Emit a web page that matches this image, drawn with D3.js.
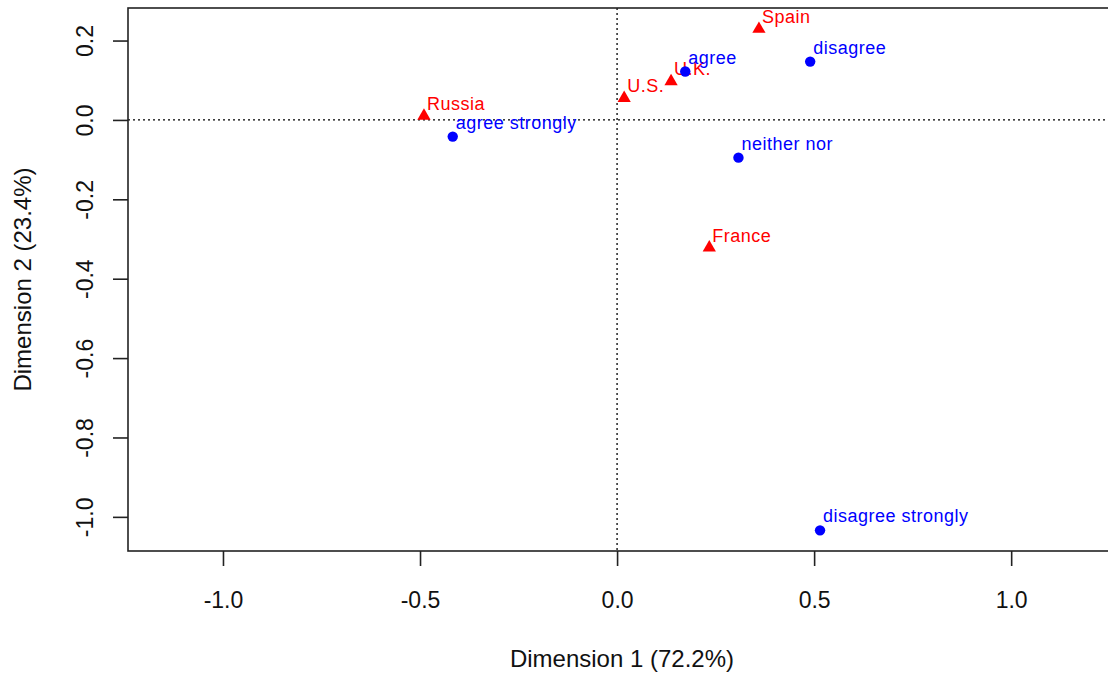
<!DOCTYPE html>
<html>
<head>
<meta charset="utf-8">
<script src="https://cdn.jsdelivr.net/npm/d3@7"></script>
<style>
    body { margin: 0; background: #ffffff; }
    svg { display: block; font-family: "Liberation Sans", Arial, sans-serif; }
</style>
</head>
<body>
<div id="chart"></div>
<script>
//row points (countries) - red triangles
var rowNames = ["U.S.", "U.K.", "Spain", "France", "Russia"];
var rowDim1 = [0.018, 0.137, 0.360, 0.234, -0.490];
var rowDim2 = [0.055, 0.097, 0.229, -0.322, 0.010];

//column points (answers) - blue circles
var colNames = ["agree strongly", "agree", "neither nor", "disagree", "disagree strongly"];
var colDim1 = [-0.417, 0.173, 0.308, 0.490, 0.515];
var colDim2 = [-0.042, 0.122, -0.095, 0.147, -1.034];

//tick values and the labels R printed for them
var xTicks = [-1.0, -0.5, 0.0, 0.5, 1.0];
var xTickLabels = ["-1.0", "-0.5", "0.0", "0.5", "1.0"];
var yTicks = [-1.0, -0.8, -0.6, -0.4, -0.2, 0.0, 0.2];
var yTickLabels = ["-1.0", "-0.8", "-0.6", "-0.4", "-0.2", "0.0", "0.2"];

var xTitle = "Dimension 1 (72.2%)";
var yTitle = "Dimension 2 (23.4%)";

//svg size
var svgWidth = 1108;
var svgHeight = 674;

//plot region edges (right edge runs past the window like the original)
var plot = { left: 128, right: 1116, top: 8, bottom: 551 };

var xScale = d3.scaleLinear().domain([-1.241, 1.266]).range([plot.left, plot.right]);
var yScale = d3.scaleLinear().domain([0.282, -1.086]).range([plot.top, plot.bottom]);

var svg = d3.select("#chart").append("svg")
    .attr("width", svgWidth)
    .attr("height", svgHeight);

//dotted reference lines through the origin
svg.append("line")
    .attr("x1", plot.left).attr("x2", plot.right)
    .attr("y1", yScale(0)).attr("y2", yScale(0))
    .attr("stroke", "#000").attr("stroke-width", 1.3)
    .attr("stroke-dasharray", "2,3");
svg.append("line")
    .attr("x1", xScale(0)).attr("x2", xScale(0))
    .attr("y1", plot.top).attr("y2", plot.bottom)
    .attr("stroke", "#000").attr("stroke-width", 1.3)
    .attr("stroke-dasharray", "2,3");

//x axis
var bottomAxis = d3.axisBottom(xScale)
    .tickValues(xTicks)
    .tickFormat((d, i) => xTickLabels[i])
    .tickSize(15)
    .tickPadding(26);
var xAxis = svg.append("g")
    .attr("class", "xAxis")
    .attr("transform", `translate(0, ${plot.bottom})`)
    .call(bottomAxis);
xAxis.select(".domain").remove();
xAxis.selectAll("line").attr("stroke", "#222").attr("stroke-width", 1.6);
xAxis.selectAll("text")
    .attr("fill", "#111")
    .style("font-size", "23px")
    .style("font-family", "Liberation Sans, Arial, sans-serif");

//y axis, labels turned like R's las=0
var leftAxis = d3.axisLeft(yScale)
    .tickValues(yTicks)
    .tickFormat((d, i) => yTickLabels[i])
    .tickSize(15);
var yAxis = svg.append("g")
    .attr("class", "yAxis")
    .attr("transform", `translate(${plot.left}, 0)`)
    .call(leftAxis);
yAxis.select(".domain").remove();
yAxis.selectAll("line").attr("stroke", "#222").attr("stroke-width", 1.6);
yAxis.selectAll("text")
    .attr("x", 0)
    .attr("dy", 0)
    .attr("text-anchor", "middle")
    .attr("transform", `translate(${93 - plot.left}, 0) rotate(-90)`)
    .attr("fill", "#111")
    .style("font-size", "23px")
    .style("font-family", "Liberation Sans, Arial, sans-serif");

//plot box
svg.append("rect")
    .attr("x", plot.left).attr("y", plot.top)
    .attr("width", plot.right - plot.left)
    .attr("height", plot.bottom - plot.top)
    .attr("fill", "none")
    .attr("stroke", "#222")
    .attr("stroke-width", 1.6);

//axis titles
svg.append("text")
    .attr("x", (plot.left + plot.right) / 2)
    .attr("y", 667)
    .attr("text-anchor", "middle")
    .attr("fill", "#111")
    .style("font-size", "24px")
    .text(xTitle);
svg.append("text")
    .attr("transform", `translate(31, ${(plot.top + plot.bottom) / 2}) rotate(-90)`)
    .attr("text-anchor", "middle")
    .attr("fill", "#111")
    .style("font-size", "24px")
    .text(yTitle);

//rows first, columns drawn on top
var rows = rowNames.map((n, i) => ({ name: n, x: rowDim1[i], y: rowDim2[i] }));
var cols = colNames.map((n, i) => ({ name: n, x: colDim1[i], y: colDim2[i] }));

var triangle = d3.symbol().type(d3.symbolTriangle).size(76);

var rowGroup = svg.append("g").attr("class", "rows");
rowGroup.selectAll("path")
    .data(rows)
    .enter().append("path")
    .attr("d", triangle)
    .attr("transform", d => `translate(${xScale(d.x)}, ${yScale(d.y)})`)
    .attr("fill", "#ff0000");
rowGroup.selectAll("text")
    .data(rows)
    .enter().append("text")
    .attr("x", d => xScale(d.x) + 3)
    .attr("y", d => yScale(d.y) - 6)
    .attr("fill", "#ff0000")
    .style("font-size", "18px")
    .style("letter-spacing", "0.5px")
    .text(d => d.name);

var colGroup = svg.append("g").attr("class", "cols");
colGroup.selectAll("circle")
    .data(cols)
    .enter().append("circle")
    .attr("cx", d => xScale(d.x))
    .attr("cy", d => yScale(d.y))
    .attr("r", 5.2)
    .attr("fill", "#0000ff");
colGroup.selectAll("text")
    .data(cols)
    .enter().append("text")
    .attr("x", d => xScale(d.x) + 3)
    .attr("y", d => yScale(d.y) - 8)
    .attr("fill", "#0000ff")
    .style("font-size", "18px")
    .style("letter-spacing", "0.5px")
    .text(d => d.name);
</script>
</body>
</html>
